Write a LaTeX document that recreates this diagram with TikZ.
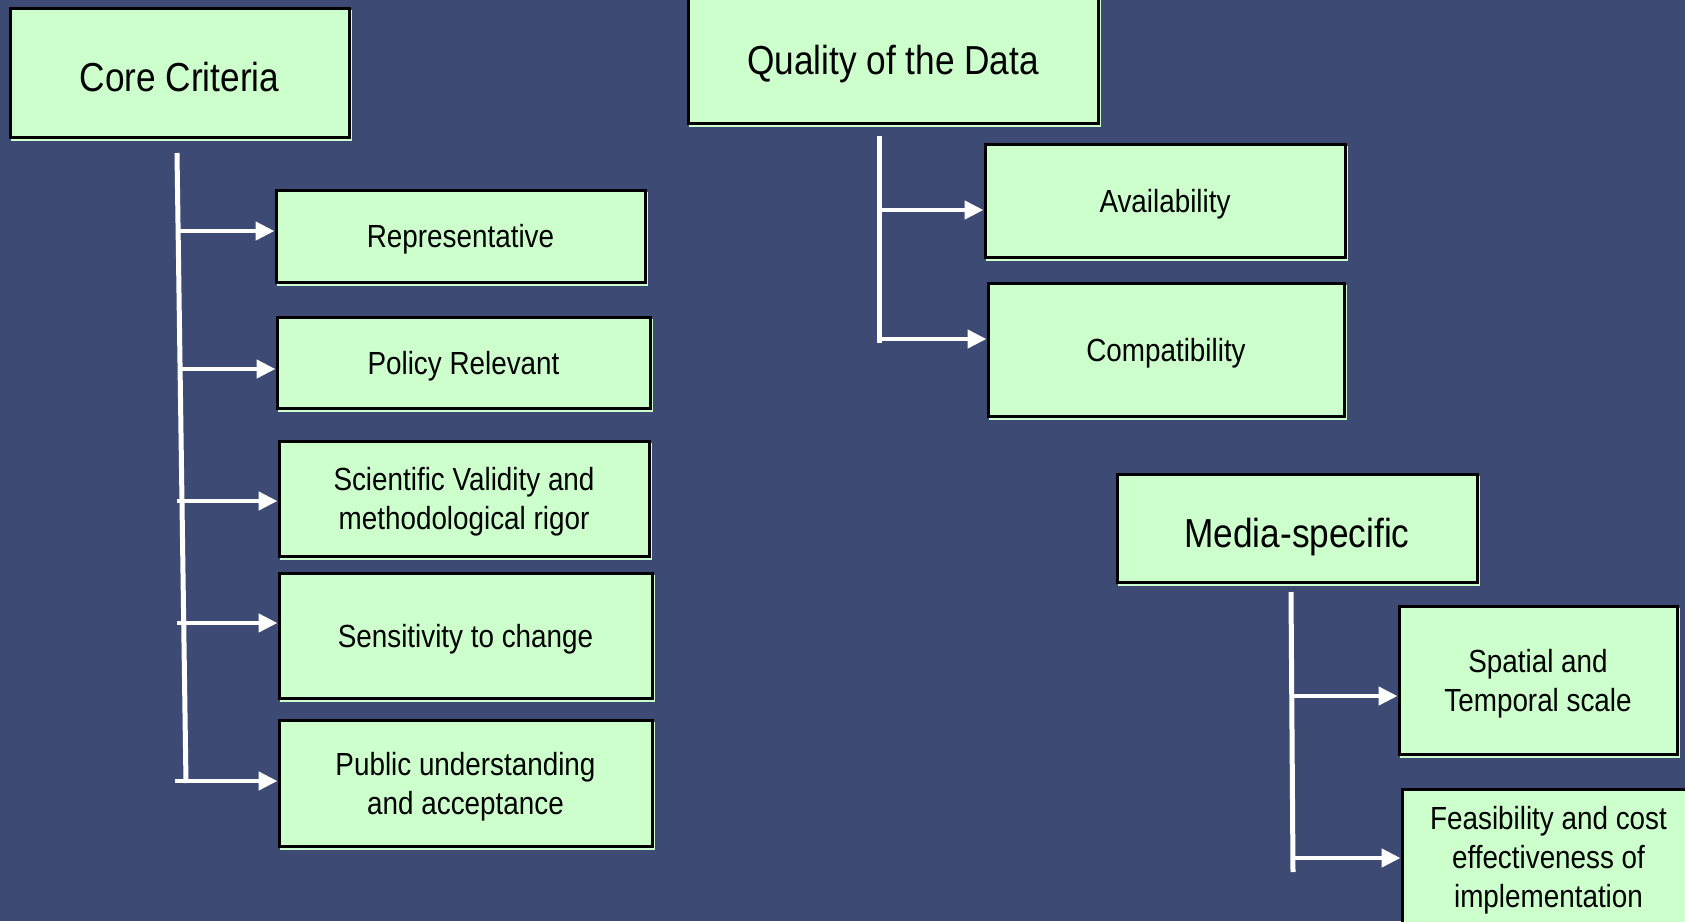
\documentclass[tikz,border=0pt]{standalone}
\usepackage{fontspec}
\setmainfont[FakeStretch=0.87]{Liberation Sans}
\usetikzlibrary{arrows.meta}
\definecolor{bgblue}{RGB}{61,75,116}
\definecolor{boxgreen}{RGB}{204,255,204}
\tikzset{
  box/.style={draw=black, line width=3pt, fill=boxgreen, align=center, inner sep=0pt,
    text=black, font=\fontsize{32}{39}\selectfont, text depth=0pt,
    preaction={draw=boxgreen, line width=2pt, transform canvas={shift={(1.5pt,-3pt)}}}},
  bigbox/.style={box, font=\fontsize{40.5}{46}\selectfont},
  lowtext/.style={text height=38pt},
  trunk/.style={draw=white, line width=5pt},
  arr/.style={draw=white, line width=4.5pt, -{Triangle[length=19pt,width=18pt]}}
}
\begin{document}
\begin{tikzpicture}[x=1pt,y=-1pt]
\fill[bgblue] (0,0) rectangle (1685,921);
\useasboundingbox (0,0) rectangle (1685,921);
\clip (0,0) rectangle (1685,921);
% Core Criteria group
\node[bigbox, lowtext, minimum width=339, minimum height=129] (core) at (179.5,72.5) {Core Criteria};
\node[box, minimum width=369, minimum height=92] (rep) at (460.5,236) {Representative};
\node[box, minimum width=373, minimum height=91] (pol) at (463.5,362.5) {Policy Relevant};
\node[box, minimum width=370, minimum height=115] (sci) at (464,498.5) {Scientific Validity and\\methodological rigor};
\node[box, minimum width=373, minimum height=125] (sen) at (465.5,635.5) {Sensitivity to change};
\node[box, minimum width=373, minimum height=126] (pub) at (465.5,783) {Public understanding\\and acceptance};
\coordinate (ct) at (177,153);
\coordinate (cb) at (186,783);
\draw[trunk] (ct) -- (cb);
\coordinate (c1) at (178,231);
\coordinate (c2) at (180,369);
\coordinate (c3) at (177,501);
\coordinate (c4) at (177,623);
\coordinate (c5) at (175,781);
\draw[arr] (c1) -- (c1 -| rep.west);
\draw[arr] (c2) -- (c2 -| pol.west);
\draw[arr] (c3) -- (c3 -| sci.west);
\draw[arr] (c4) -- (c4 -| sen.west);
\draw[arr] (c5) -- (c5 -| pub.west);
% Quality of the Data group
\node[bigbox, minimum width=410, minimum height=126] (qual) at (893,60) {Quality of the Data};
\node[box, minimum width=360, minimum height=113] (avail) at (1165,200.5) {Availability};
\node[box, minimum width=356, minimum height=133] (compat) at (1166,349.5) {Compatibility};
\coordinate (qt) at (879,136);
\coordinate (qb) at (879,343);
\draw[trunk] (qt) -- (qb);
\coordinate (q1) at (879,210);
\coordinate (q2) at (877,339);
\draw[arr] (q1) -- (q1 -| avail.west);
\draw[arr] (q2) -- (q2 -| compat.west);
% Media-specific group
\node[bigbox, lowtext, minimum width=360, minimum height=108] (media) at (1297,528) {Media-specific};
\node[box, minimum width=278, minimum height=148] (spat) at (1538,680) {Spatial and\\Temporal scale};
\node[box, minimum width=293, minimum height=136] (feas) at (1548.5,857) {Feasibility and cost\\effectiveness of\\implementation};
\coordinate (mt) at (1291,592);
\coordinate (mb) at (1293,872);
\draw[trunk] (mt) -- (mb);
\coordinate (m1) at (1292,696);
\coordinate (m2) at (1293,858);
\draw[arr] (m1) -- (m1 -| spat.west);
\draw[arr] (m2) -- (m2 -| feas.west);
\end{tikzpicture}
\end{document}
